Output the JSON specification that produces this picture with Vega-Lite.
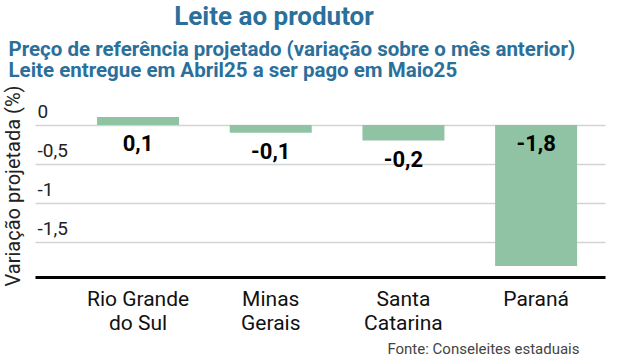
{
  "$schema": "https://vega.github.io/schema/vega-lite/v6.json",
  "width": 570,
  "height": 178,
  "autosize": {"type": "none"},
  "padding": {"left": 35, "top": 99, "right": 13, "bottom": 82},
  "title": {
    "text": "Leite ao produtor",
    "anchor": "middle",
    "frame": "group",
    "dx": -46,
    "offset": 9,
    "fontSize": 26,
    "fontWeight": "bold",
    "color": "#2B6F9B",
    "font": "Roboto"
  },
  "data": {
    "values": [
      {"estado": "Rio Grande do Sul", "variacao": 0.1},
      {"estado": "Minas Gerais", "variacao": -0.1},
      {"estado": "Santa Catarina", "variacao": -0.2},
      {"estado": "Paraná", "variacao": -1.8}
    ]
  },
  "layer": [
    {
      "mark": {"type": "bar", "color": "#8FC3A3"},
      "encoding": {
        "x": {
          "field": "estado",
          "type": "nominal",
          "sort": null,
          "scale": {"paddingInner": 0.382, "paddingOuter": 0.339, "align": 0.69},
          "axis": {
            "orient": "bottom",
            "ticks": false,
            "domainColor": "#000000",
            "domainWidth": 3,
            "labelAngle": 0,
            "labelFont": "Roboto",
            "labelFontSize": 21,
            "labelColor": "#111111",
            "labelPadding": 28,
            "labelBaseline": "alphabetic",
            "labelLineHeight": 24,
            "labelExpr": "datum.label == 'Rio Grande do Sul' ? ['Rio Grande', 'do Sul'] : split(datum.label, ' ')",
            "title": "Fonte: Conseleites estaduais",
            "titleX": 544,
            "titleY": 76,
            "titleAlign": "right",
            "titleAnchor": "end",
            "titleBaseline": "alphabetic",
            "titleFont": "Roboto",
            "titleFontSize": 15,
            "titleFontWeight": "normal",
            "titleColor": "#444444"
          }
        },
        "y": {
          "field": "variacao",
          "type": "quantitative",
          "scale": {"domain": [-1.94, 0.33], "nice": false, "zero": false},
          "axis": {
            "values": [0, -0.5, -1, -1.5],
            "format": "~g",
            "domain": false,
            "ticks": false,
            "grid": true,
            "gridColor": "#d4d4d4",
            "gridWidth": 1.5,
            "labelAlign": "left",
            "labelBaseline": "alphabetic",
            "labelPadding": -2,
            "labelOffset": -7.5,
            "labelFont": "Roboto",
            "labelFontSize": 19,
            "labelColor": "#222222",
            "title": "Variação projetada (%)",
            "titleX": -21.5,
            "titleY": 86.5,
            "titleAngle": -90,
            "titleAlign": "center",
            "titleBaseline": "middle",
            "titleFont": "Roboto",
            "titleFontSize": 20,
            "titleFontWeight": "normal",
            "titleColor": "#222222"
          }
        }
      }
    },
    {
      "transform": [
        {"calculate": "datum.variacao < -1 ? 0 : min(datum.variacao, 0)", "as": "label_pos"}
      ],
      "mark": {
        "type": "text",
        "baseline": "middle",
        "dy": 19.5,
        "fontSize": 22,
        "fontWeight": "bold",
        "font": "Roboto",
        "color": "#000000"
      },
      "encoding": {
        "x": {
          "field": "estado",
          "type": "nominal",
          "sort": null,
          "axis": {
            "orient": "top",
            "labels": false,
            "ticks": false,
            "domain": false,
            "grid": false,
            "title": ["Preço de referência projetado (variação sobre o mês anterior)", "Leite entregue em Abril25 a ser pago em Maio25"],
            "titleX": -27,
            "titleY": -44,
            "titleAlign": "left",
            "titleAnchor": "start",
            "titleBaseline": "alphabetic",
            "titleAngle": 0,
            "titleFont": "Roboto",
            "titleFontSize": 20.5,
            "titleFontWeight": "bold",
            "titleColor": "#2B6F9B",
            "titleLineHeight": 21.7
          }
        },
        "y": {
          "field": "label_pos",
          "type": "quantitative",
          "scale": {"domain": [-1.94, 0.33], "nice": false, "zero": false},
          "axis": {
            "values": [0, -0.5, -1, -1.5],
            "format": "~g",
            "domain": false,
            "ticks": false,
            "grid": true,
            "gridColor": "#d4d4d4",
            "gridWidth": 1.5,
            "labelAlign": "left",
            "labelBaseline": "alphabetic",
            "labelPadding": -2,
            "labelOffset": -7.5,
            "labelFont": "Roboto",
            "labelFontSize": 19,
            "labelColor": "#222222",
            "title": "Variação projetada (%)",
            "titleX": -21.5,
            "titleY": 86.5,
            "titleAngle": -90,
            "titleAlign": "center",
            "titleBaseline": "middle",
            "titleFont": "Roboto",
            "titleFontSize": 20,
            "titleFontWeight": "normal",
            "titleColor": "#222222"
          }
        },
        "text": {"field": "variacao", "type": "quantitative", "format": ".1f"}
      }
    }
  ],
  "resolve": {"axis": {"x": "independent"}},
  "config": {
    "view": {"stroke": null},
    "font": "Roboto",
    "locale": {
      "number": {"decimal": ",", "thousands": ".", "grouping": [3], "currency": ["R$", ""], "minus": "-"}
    }
  }
}
